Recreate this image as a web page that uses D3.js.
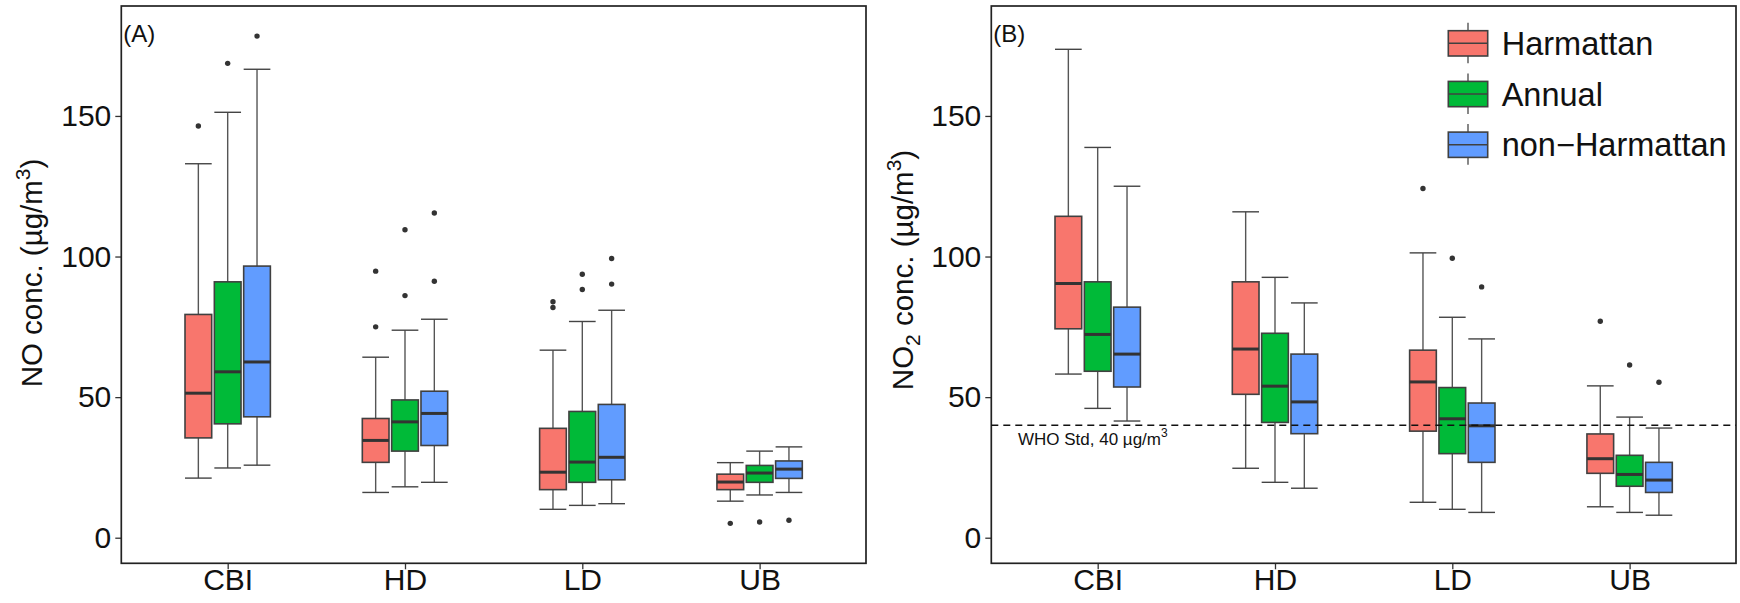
<!DOCTYPE html>
<html>
<head>
<meta charset="utf-8">
<script src="https://cdn.jsdelivr.net/npm/d3@7"></script>
<style>
  body { margin: 0; background: #fff; }
  svg { display: block; font-family: "Liberation Sans", Arial, sans-serif; }
</style>
</head>
<body>
<div id="chart"></div>
<script>
// Categories
const sites = ["CBI", "HD", "LD", "UB"];
const seasons = ["Harmattan", "Annual", "non\u2212Harmattan"];
const yTicks = [0, 50, 100, 150];

// NO box stats per site: [lower whisker, Q1, median, Q3, upper whisker]
const noHarmattan = [[21.2, 35.5, 51.4, 79.4, 133.0], [16.1, 26.8, 34.6, 42.4, 64.2], [10.1, 17.1, 23.3, 38.9, 66.7], [13.0, 17.1, 19.8, 22.6, 26.7]];
const noAnnual = [[24.8, 40.5, 59.0, 91.0, 151.3], [18.1, 30.8, 41.2, 49.0, 73.8], [11.5, 19.7, 26.9, 44.9, 76.9], [15.2, 19.7, 23.0, 25.7, 30.8]];
const noNonHarmattan = [[25.8, 43.0, 62.5, 96.6, 166.6], [19.7, 32.8, 44.2, 52.1, 77.7], [12.1, 20.6, 28.6, 47.4, 80.9], [16.1, 21.1, 24.4, 27.3, 32.3]];
// NO outliers per site
const noOutHarmattan = [[146.4], [94.8, 75.0], [83.9, 81.9], [5.1]];
const noOutAnnual = [[168.7], [109.5, 86.1], [93.7, 88.3], [5.6]];
const noOutNonHarmattan = [[178.4], [115.5, 91.2], [99.3, 90.2], [6.2]];

// NO2 box stats per site
const no2Harmattan = [[58.2, 74.3, 90.4, 114.3, 173.7], [24.7, 51.0, 67.1, 91.0, 115.9], [12.6, 37.9, 55.4, 66.7, 101.3], [11.0, 22.9, 28.1, 36.9, 54.0]];
const no2Annual = [[46.0, 59.2, 72.3, 91.0, 138.8], [19.7, 41.0, 53.9, 72.7, 92.6], [10.1, 29.9, 42.3, 53.4, 78.4], [9.0, 18.3, 22.5, 29.3, 42.9]];
const no2NonHarmattan = [[41.5, 53.6, 65.3, 82.0, 125.0], [17.6, 37.0, 48.3, 65.3, 83.5], [9.0, 26.8, 39.8, 47.9, 70.7], [8.0, 16.1, 20.5, 26.8, 39.0]];
// NO2 outliers per site
const no2OutHarmattan = [[], [], [124.2], [77.0]];
const no2OutAnnual = [[], [], [99.4], [61.4]];
const no2OutNonHarmattan = [[], [], [89.2], [55.3]];

const whoLimit = 40;

const colors = ["#F8766D", "#00BA38", "#619CFF"];

const W = 1740, H = 603;
const svg = d3.select("#chart").append("svg")
  .attr("width", W).attr("height", H);

const plotTop = 6, plotBottom = 563.3;

// shared y scale
const y = d3.scaleLinear().domain([-9.1, 189.1]).range([plotBottom, plotTop]);

// dodge within a site
const dodge = d3.scaleBand().domain(seasons).range([-44, 44])
  .paddingInner(0.09).paddingOuter(0.045);

function drawPanel(left, right, stats, outs, tag) {
  const x = d3.scalePoint().domain(sites).range([left, right]).padding(0.6);
  const g = svg.append("g");

  // axes
  const ya = g.append("g")
    .attr("transform", "translate(" + left + ",0)")
    .call(d3.axisLeft(y).tickValues(yTicks).tickSize(6).tickPadding(4));
  const xa = g.append("g")
    .attr("transform", "translate(0," + plotBottom + ")")
    .call(d3.axisBottom(x).tickSize(6).tickPadding(4));
  [ya, xa].forEach(a => {
    a.select(".domain").remove();
    a.selectAll("line").attr("stroke", "#333").attr("stroke-width", 1.3);
    a.selectAll("text").attr("font-size", 30).attr("fill", "#111")
      .attr("font-family", "Liberation Sans, Arial, sans-serif");
  });
  xa.selectAll("text").attr("dy", "0.55em");

  const bw = dodge.bandwidth();

  seasons.forEach((s, si) => {
    const st = stats[si];
    const boxes = g.append("g").selectAll("g")
      .data(sites.map((site, i) => ({ site: site, v: st[i], o: outs[si][i] })))
      .join("g")
      .attr("transform", d => "translate(" + (x(d.site) + dodge(s)) + ",0)");

    // whiskers
    boxes.append("line")
      .attr("x1", bw / 2).attr("x2", bw / 2)
      .attr("y1", d => y(d.v[0])).attr("y2", d => y(d.v[4]))
      .attr("stroke", "#555").attr("stroke-width", 1.4);
    // caps
    boxes.selectAll(".cap").data(d => [d.v[0], d.v[4]]).join("line")
      .attr("class", "cap")
      .attr("x1", 0).attr("x2", bw)
      .attr("y1", d => y(d)).attr("y2", d => y(d))
      .attr("stroke", "#444").attr("stroke-width", 1.4);
    // box
    boxes.append("rect")
      .attr("x", 0).attr("width", bw)
      .attr("y", d => y(d.v[3]))
      .attr("height", d => y(d.v[1]) - y(d.v[3]))
      .attr("fill", colors[si]).attr("stroke", "#404040").attr("stroke-width", 1.6);
    // median
    boxes.append("line")
      .attr("x1", 0).attr("x2", bw)
      .attr("y1", d => y(d.v[2])).attr("y2", d => y(d.v[2]))
      .attr("stroke", "#333").attr("stroke-width", 3);
    // outliers
    boxes.selectAll("circle").data(d => d.o).join("circle")
      .attr("cx", bw / 2).attr("cy", d => y(d)).attr("r", 2.7)
      .attr("fill", "#333");
  });

  // panel border
  g.append("rect")
    .attr("x", left).attr("y", plotTop)
    .attr("width", right - left).attr("height", plotBottom - plotTop)
    .attr("fill", "none").attr("stroke", "#222").attr("stroke-width", 1.7);

  // panel tag
  g.append("text")
    .attr("x", left + 2).attr("y", 42)
    .attr("font-size", 24).attr("fill", "#111")
    .text(tag);

  return x;
}

drawPanel(121.3, 866, [noHarmattan, noAnnual, noNonHarmattan],
  [noOutHarmattan, noOutAnnual, noOutNonHarmattan], "(A)");
drawPanel(991.3, 1736, [no2Harmattan, no2Annual, no2NonHarmattan],
  [no2OutHarmattan, no2OutAnnual, no2OutNonHarmattan], "(B)");

// WHO line on panel B
svg.append("line")
  .attr("x1", 991.3).attr("x2", 1736)
  .attr("y1", y(whoLimit)).attr("y2", y(whoLimit))
  .attr("stroke", "#111").attr("stroke-width", 1.5)
  .attr("stroke-dasharray", "7,5");
const who = svg.append("text")
  .attr("x", 1018).attr("y", 445)
  .attr("font-size", 17).attr("fill", "#111");
who.append("tspan").text("WHO Std, 40 \u00b5g/m");
who.append("tspan").attr("font-size", 12).attr("dy", -8).text("3");

// y axis titles
function yTitle(xPos, yPos, sub) {
  const t = svg.append("text")
    .attr("transform", "translate(" + xPos + "," + yPos + ") rotate(-90)")
    .attr("text-anchor", "middle")
    .attr("font-size", 29.5).attr("fill", "#111");
  t.append("tspan").text("NO");
  if (sub) t.append("tspan").attr("font-size", 21).attr("dy", 7).text("2");
  t.append("tspan").attr("dy", sub ? -7 : 0).text(" conc. (\u00b5g/m");
  t.append("tspan").attr("font-size", 21).attr("dy", -12).text("3");
  t.append("tspan").attr("dy", 12).text(")");
}
yTitle(42, 273, false);
yTitle(913, 270, true);

// legend
const legend = svg.append("g").attr("transform", "translate(1448.3,43.3)");
const keyStep = 50.7;
seasons.forEach((s, i) => {
  const k = legend.append("g").attr("transform", "translate(0," + (i * keyStep) + ")");
  k.append("line").attr("x1", 19.7).attr("x2", 19.7).attr("y1", -20.6).attr("y2", 20)
    .attr("stroke", "#555").attr("stroke-width", 1.4);
  k.append("rect").attr("x", 0).attr("y", -12.6).attr("width", 39.4).attr("height", 25.3)
    .attr("fill", colors[i]).attr("stroke", "#404040").attr("stroke-width", 1.6);
  k.append("line").attr("x1", 0).attr("x2", 39.4).attr("y1", 0).attr("y2", 0)
    .attr("stroke", "#404040").attr("stroke-width", 1.6);
  k.append("text").attr("x", 53.4).attr("y", 11.5)
    .attr("font-size", 32.5).attr("fill", "#111").text(s);
});
</script>
</body>
</html>
